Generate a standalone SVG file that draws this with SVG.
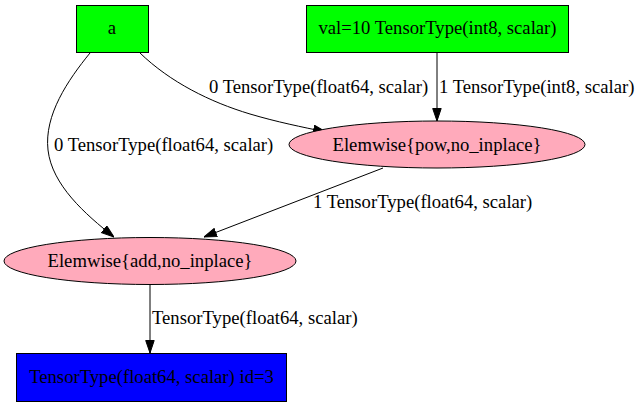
<svg xmlns="http://www.w3.org/2000/svg" width="642" height="407" viewBox="0 0 642 407">
<defs>
<marker id="ah" markerWidth="13" markerHeight="10" refX="13" refY="4.7" orient="auto" markerUnits="userSpaceOnUse">
<polygon points="0.5,0.5 13,4.7 0.5,9" fill="#000" stroke="#000"/>
</marker>
</defs>
<style>
text{font-family:"Liberation Serif","Times New Roman",serif;font-size:18.67px;fill:#000}
.n{stroke:#000;stroke-width:1}
.e{fill:none;stroke:#000;stroke-width:1;marker-end:url(#ah)}
</style>
<rect width="642" height="407" fill="#fff"/>
<g id="edges">
<path class="e" d="M90,53 C68,80 44,115 48,150 C52,185 85,214 114,237"/>
<text x="54" y="151">0 TensorType(float64, scalar)</text>
<path class="e" d="M140,53 C170,82 210,102 250,114 C277,122 302,127 326,132"/>
<text x="209" y="93">0 TensorType(float64, scalar)</text>
<path class="e" d="M437,52 L437,121"/>
<text x="439" y="93">1 TensorType(int8, scalar)</text>
<path class="e" d="M383,168 L204,237"/>
<text x="313" y="208">1 TensorType(float64, scalar)</text>
<path class="e" d="M150,285 L150,353"/>
<text x="152" y="324">TensorType(float64, scalar)</text>
</g>
<g id="node-a">
<rect class="n" x="76.5" y="5.5" width="72" height="47" fill="#00ff00"/>
<text x="112" y="34" text-anchor="middle">a</text>
</g>
<g id="node-val">
<rect class="n" x="306.5" y="5.5" width="262" height="47" fill="#00ff00"/>
<text x="437.5" y="34" text-anchor="middle">val=10 TensorType(int8, scalar)</text>
</g>
<g id="node-pow">
<ellipse class="n" cx="437" cy="144.5" rx="148" ry="23.5" fill="#ffaabb"/>
<text x="437" y="150.5" text-anchor="middle">Elemwise{pow,no_inplace}</text>
</g>
<g id="node-add">
<ellipse class="n" cx="150" cy="261" rx="146" ry="23.5" fill="#ffaabb"/>
<text x="150" y="267" text-anchor="middle">Elemwise{add,no_inplace}</text>
</g>
<g id="node-out">
<rect class="n" x="16.5" y="353.5" width="270" height="48" fill="#0000ff"/>
<text x="151.5" y="383" text-anchor="middle">TensorType(float64, scalar) id=3</text>
</g>
</svg>
